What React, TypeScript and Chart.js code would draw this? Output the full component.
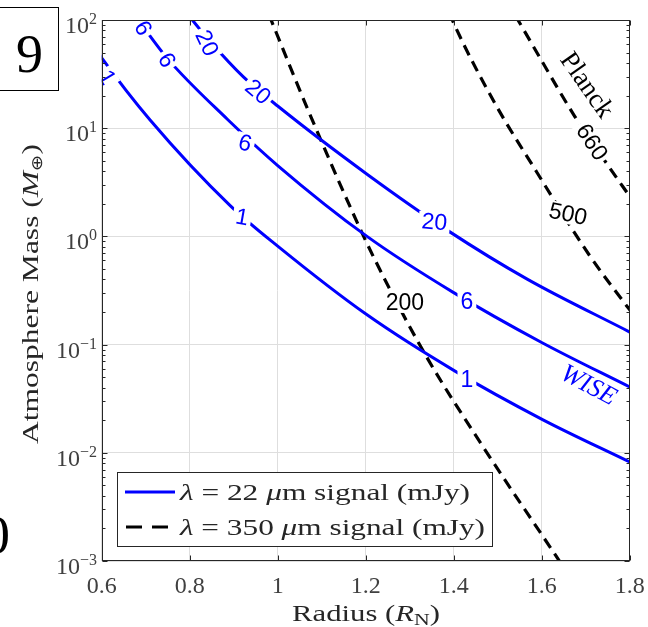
import React, { useEffect, useRef } from "react";
import { Chart, registerables } from "chart.js";
Chart.register(...registerables);

// ---- axis ticks ----
const xTickValues = [0.6, 0.8, 1.0, 1.2, 1.4, 1.6, 1.8];
const xTickLabels = ["0.6", "0.8", "1", "1.2", "1.4", "1.6", "1.8"];
const yTickExponents = [-3, -2, -1, 0, 1, 2];

// ---- WISE 22 um contours (radius in R_N, log10 of mass in M_earth) ----
const wise1Radius = [0.595, 0.6, 0.71, 0.892, 1.0, 1.203, 1.403, 1.603, 1.8];
const wise1LogMass = [1.68, 1.65, 1.076, 0.285, -0.09, -0.725, -1.245, -1.695, -2.085];

const wise6Radius = [0.672, 0.683, 0.748, 0.885, 1.0, 1.203, 1.398, 1.601, 1.8];
const wise6LogMass = [2.06, 2.0, 1.65, 1.085, 0.655, 0.0, -0.515, -0.983, -1.392];

const wise20Radius = [0.795, 0.806, 0.847, 0.922, 1.0, 1.203, 1.385, 1.567, 1.8];
const wise20LogMass = [2.06, 2.0, 1.8, 1.475, 1.205, 0.575, 0.058, -0.395, -0.884];

// ---- Planck 350 um contours ----
const planck200Radius = [0.98, 0.987, 1.069, 1.171, 1.219, 1.335, 1.467, 1.619, 1.655];
const planck200LogMass = [2.05, 1.98, 1.168, 0.216, -0.2, -1.09, -1.946, -2.871, -3.09];

const planck500Radius = [1.39, 1.399, 1.492, 1.59, 1.708, 1.783, 1.81];
const planck500LogMass = [2.07, 1.98, 1.242, 0.586, -0.172, -0.588, -0.73];

const planck660Radius = [1.54, 1.546, 1.589, 1.675, 1.75, 1.8];
const planck660LogMass = [2.04, 2.0, 1.7, 1.11, 0.66, 0.37];

const BLUE = "#0000ff";
const BLACK = "#000000";
const AXIS = "#262626";
const TICKTXT = "#404040";
const SERIF = '"Liberation Serif", "Times New Roman", serif';
const SANS = '"Liberation Sans", Arial, sans-serif';

const seriesList = [
  { radius: wise1Radius, logMass: wise1LogMass, color: BLUE, dashed: false },
  { radius: wise6Radius, logMass: wise6LogMass, color: BLUE, dashed: false },
  { radius: wise20Radius, logMass: wise20LogMass, color: BLUE, dashed: false },
  { radius: planck200Radius, logMass: planck200LogMass, color: BLACK, dashed: true },
  { radius: planck500Radius, logMass: planck500LogMass, color: BLACK, dashed: true },
  { radius: planck660Radius, logMass: planck660LogMass, color: BLACK, dashed: true },
];

// contour labels: text, anchor (radius, log10 mass), rotation in degrees
const contourLabels = [
  { text: "1", r: 0.612, lm: 1.47, angle: 60, color: BLUE, font: `23px ${SANS}`, gap: true },
  { text: "6", r: 0.694, lm: 1.926, angle: 60, color: BLUE, font: `23px ${SANS}`, gap: true },
  { text: "6", r: 0.748, lm: 1.63, angle: 60, color: BLUE, font: `23px ${SANS}`, gap: true },
  { text: "20", r: 0.839, lm: 1.787, angle: 65, color: BLUE, font: `23px ${SANS}`, gap: true },
  { text: "20", r: 0.955, lm: 1.335, angle: 40, color: BLUE, font: `23px ${SANS}`, gap: true },
  { text: "6", r: 0.926, lm: 0.862, angle: 15, color: BLUE, font: `23px ${SANS}`, gap: true },
  { text: "1", r: 0.919, lm: 0.178, angle: 10, color: BLUE, font: `23px ${SANS}`, gap: true },
  { text: "20", r: 1.356, lm: 0.133, angle: 5, color: BLUE, font: `23px ${SANS}`, gap: true },
  { text: "6", r: 1.43, lm: -0.601, angle: 0, color: BLUE, font: `23px ${SANS}`, gap: true },
  { text: "1", r: 1.43, lm: -1.323, angle: 0, color: BLUE, font: `23px ${SANS}`, gap: true },
  { text: "200", r: 1.289, lm: -0.615, angle: 0, color: BLACK, font: `23px ${SANS}`, gap: true },
  { text: "500", r: 1.66, lm: 0.207, angle: 12, color: BLACK, font: `23px ${SANS}`, gap: true },
  { text: "660", r: 1.714, lm: 0.872, angle: 57, color: BLACK, font: `23px ${SANS}`, gap: true },
  { text: "Planck", r: 1.703, lm: 1.399, angle: 55, color: BLACK, font: `27px ${SERIF}`, gap: false },
  { text: "WISE", r: 1.707, lm: -1.373, angle: 28, color: BLUE, font: `italic 26px ${SERIF}`, gap: false },
];

type Run = { text: string; font: string; dy?: number };

function runsWidth(ctx: CanvasRenderingContext2D, runs: Run[]) {
  let w = 0;
  for (const r of runs) {
    ctx.font = r.font;
    w += ctx.measureText(r.text).width;
  }
  return w;
}

// draws text runs; if targetWidth is given the runs are stretched horizontally to that width
function drawRuns(
  ctx: CanvasRenderingContext2D,
  runs: Run[],
  x: number,
  y: number,
  align: string,
  color: string,
  targetWidth?: number
) {
  const natural = runsWidth(ctx, runs);
  const w = targetWidth || natural;
  const sx = w / natural;
  const start = align === "left" ? x : align === "center" ? x - w / 2 : x - w;
  ctx.save();
  ctx.translate(start, y);
  ctx.scale(sx, 1);
  ctx.textAlign = "left";
  ctx.textBaseline = "alphabetic";
  ctx.fillStyle = color;
  let cx = 0;
  for (const r of runs) {
    ctx.font = r.font;
    ctx.fillText(r.text, cx, r.dy || 0);
    cx += ctx.measureText(r.text).width;
  }
  ctx.restore();
}

const decorPlugin = {
  id: "decor",
  afterDatasetsDraw(chart: any) {
    const ctx: CanvasRenderingContext2D = chart.ctx;
    const xs = chart.scales.x;
    const ys = chart.scales.y;
    const ca = chart.chartArea;
    ctx.save();
    ctx.beginPath();
    ctx.rect(ca.left, ca.top, ca.right - ca.left, ca.bottom - ca.top);
    ctx.clip();
    for (const lab of contourLabels) {
      const px = xs.getPixelForValue(lab.r);
      const py = ys.getPixelForValue(Math.pow(10, lab.lm));
      ctx.save();
      ctx.translate(px, py);
      ctx.rotate((lab.angle * Math.PI) / 180);
      ctx.font = lab.font;
      const w = ctx.measureText(lab.text).width;
      if (lab.gap) {
        ctx.fillStyle = "#ffffff";
        ctx.fillRect(-w / 2 - 3, -10, w + 6, 20);
      }
      ctx.fillStyle = lab.color;
      ctx.textAlign = "center";
      ctx.textBaseline = "middle";
      ctx.fillText(lab.text, 0, 1);
      ctx.restore();
    }
    ctx.restore();
  },
  afterDraw(chart: any) {
    const ctx: CanvasRenderingContext2D = chart.ctx;
    const xs = chart.scales.x;
    const ys = chart.scales.y;
    const ca = chart.chartArea;
    const L = Math.round(ca.left) + 0.5;
    const R = Math.round(ca.right) - 0.5;
    const T = Math.round(ca.top) + 0.5;
    const B = Math.round(ca.bottom) - 0.5;
    ctx.save();
    ctx.strokeStyle = AXIS;
    ctx.lineWidth = 1;
    ctx.strokeRect(L, T, R - L, B - T);
    ctx.beginPath();
    for (const v of xTickValues) {
      const px = Math.round(xs.getPixelForValue(v)) + 0.5;
      ctx.moveTo(px, B);
      ctx.lineTo(px, B - 5);
      ctx.moveTo(px, T);
      ctx.lineTo(px, T + 5);
    }
    for (const e of yTickExponents) {
      for (let m = 1; m <= 9; m++) {
        if (e === 2 && m > 1) continue;
        const py = Math.round(ys.getPixelForValue(m * Math.pow(10, e))) + 0.5;
        const len = m === 1 ? 5 : 3;
        ctx.moveTo(L, py);
        ctx.lineTo(L + len, py);
        ctx.moveTo(R, py);
        ctx.lineTo(R - len, py);
      }
    }
    ctx.stroke();

    // x tick labels
    ctx.fillStyle = TICKTXT;
    ctx.font = `24px ${SERIF}`;
    ctx.textAlign = "center";
    ctx.textBaseline = "alphabetic";
    xTickValues.forEach((v, i) => {
      ctx.fillText(xTickLabels[i], xs.getPixelForValue(v), 593);
    });
    // y tick labels 10^e
    for (const e of yTickExponents) {
      const py = ys.getPixelForValue(Math.pow(10, e));
      const expText = e < 0 ? "\u2212" + String(-e) : String(e);
      drawRuns(
        ctx,
        [
          { text: "10", font: `24px ${SERIF}`, dy: 13 },
          { text: expText, font: `16px ${SERIF}`, dy: 4 },
        ],
        97,
        py,
        "right",
        TICKTXT
      );
    }

    // axis titles
    const tf = `24px ${SERIF}`;
    drawRuns(
      ctx,
      [
        { text: "Radius (", font: tf },
        { text: "R", font: `italic ${tf}` },
        { text: "N", font: `17px ${SERIF}`, dy: 4 },
        { text: ")", font: tf },
      ],
      366,
      621,
      "center",
      AXIS,
      148
    );
    ctx.save();
    ctx.translate(38, 294);
    ctx.rotate(-Math.PI / 2);
    drawRuns(
      ctx,
      [
        { text: "Atmosphere Mass (", font: tf },
        { text: "M", font: `italic ${tf}` },
        { text: "\u2295", font: `15px "DejaVu Sans", ${SERIF}`, dy: 4 },
        { text: ")", font: tf },
      ],
      0,
      0,
      "center",
      AXIS,
      300
    );
    ctx.restore();

    // legend
    ctx.fillStyle = "#ffffff";
    ctx.fillRect(117, 472, 376, 75);
    ctx.strokeStyle = AXIS;
    ctx.lineWidth = 1;
    ctx.strokeRect(117.5, 472.5, 375, 74);
    ctx.lineWidth = 3;
    ctx.strokeStyle = BLUE;
    ctx.beginPath();
    ctx.moveTo(125, 492);
    ctx.lineTo(175, 492);
    ctx.stroke();
    ctx.strokeStyle = BLACK;
    ctx.setLineDash([16, 10]);
    ctx.beginPath();
    ctx.moveTo(126, 527);
    ctx.lineTo(176, 527);
    ctx.stroke();
    ctx.setLineDash([]);
    const lf = `24px ${SERIF}`;
    drawRuns(
      ctx,
      [
        { text: "\u03bb", font: `italic ${lf}` },
        { text: " = 22 ", font: lf },
        { text: "\u03bc", font: `italic ${lf}` },
        { text: "m signal (mJy)", font: lf },
      ],
      180,
      500,
      "left",
      AXIS,
      290
    );
    drawRuns(
      ctx,
      [
        { text: "\u03bb", font: `italic ${lf}` },
        { text: " = 350 ", font: lf },
        { text: "\u03bc", font: `italic ${lf}` },
        { text: "m signal (mJy)", font: lf },
      ],
      180,
      535,
      "left",
      AXIS,
      305
    );

    // neighbouring panel fragments
    ctx.strokeStyle = BLACK;
    ctx.lineWidth = 1;
    ctx.strokeRect(-0.5, 7.5, 59, 83);
    ctx.fillStyle = BLACK;
    ctx.font = `54px ${SERIF}`;
    ctx.textAlign = "center";
    ctx.textBaseline = "alphabetic";
    ctx.fillText("9", 29.5, 72);
    ctx.textAlign = "right";
    ctx.font = `55px ${SERIF}`;
    ctx.fillText("0", 10, 553);
    ctx.restore();
  },
};

export default function App() {
  const ref = useRef<HTMLCanvasElement | null>(null);
  useEffect(() => {
    if (!ref.current) return;
    const datasets = seriesList.map((s) => ({
      data: s.radius.map((r, i) => ({ x: r, y: Math.pow(10, s.logMass[i]) })),
      borderColor: s.color,
      borderWidth: s.dashed ? 3.2 : 3,
      borderDash: s.dashed ? [11, 7] : [],
      pointRadius: 0,
      fill: false,
      cubicInterpolationMode: "monotone" as const,
    }));
    const chart = new Chart(ref.current, {
      type: "line",
      data: { datasets },
      options: {
        responsive: false,
        animation: false,
        devicePixelRatio: 1,
        layout: { padding: { left: 101.7, right: 18.3, top: 20, bottom: 66 } },
        plugins: { legend: { display: false }, tooltip: { enabled: false } },
        scales: {
          x: {
            type: "linear",
            min: 0.6,
            max: 1.8,
            afterBuildTicks: (axis: any) => {
              axis.ticks = xTickValues.map((v) => ({ value: v }));
            },
            afterFit: (axis: any) => {
              axis.height = 0;
            },
            ticks: { display: false },
            border: { display: false },
            grid: { color: "#dedede", lineWidth: 1, drawTicks: false },
          },
          y: {
            type: "logarithmic",
            min: 1e-3,
            max: 1e2,
            afterBuildTicks: (axis: any) => {
              axis.ticks = yTickExponents.map((e) => ({ value: Math.pow(10, e) }));
            },
            afterFit: (axis: any) => {
              axis.width = 0;
            },
            ticks: { display: false },
            border: { display: false },
            grid: { color: "#dedede", lineWidth: 1, drawTicks: false },
          },
        },
      },
      plugins: [decorPlugin],
    });
    return () => chart.destroy();
  }, []);
  return (
    <div style={{ position: "fixed", left: 0, top: 0, width: 648, height: 627, background: "#fff" }}>
      <canvas ref={ref} width={648} height={627} style={{ display: "block" }} />
    </div>
  );
}
